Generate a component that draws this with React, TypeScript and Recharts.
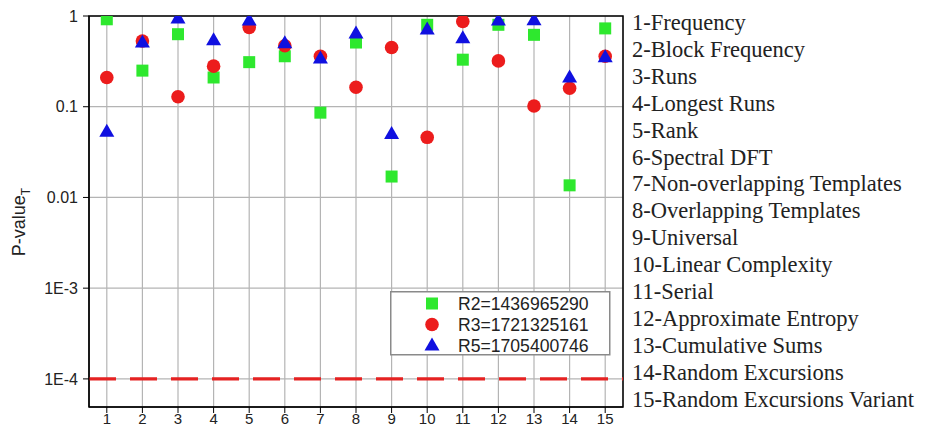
import React from "react";
import { ScatterChart, Scatter, XAxis, YAxis, CartesianGrid, ReferenceLine, ReferenceArea } from "recharts";

// NIST test numbers and names
const testIds = [1, 2, 3, 4, 5, 6, 7, 8, 9, 10, 11, 12, 13, 14, 15];
const testNames = [
  "1-Frequency",
  "2-Block Frequency",
  "3-Runs",
  "4-Longest Runs",
  "5-Rank",
  "6-Spectral DFT",
  "7-Non-overlapping Templates",
  "8-Overlapping Templates",
  "9-Universal",
  "10-Linear Complexity",
  "11-Serial",
  "12-Approximate Entropy",
  "13-Cumulative Sums",
  "14-Random Excursions",
  "15-Random Excursions Variant",
];

// P-value_T per test
const r2Values = [0.92, 0.25, 0.63, 0.21, 0.31, 0.36, 0.086, 0.51, 0.017, 0.8, 0.33, 0.8, 0.62, 0.0136, 0.73];
const r3Values = [0.21, 0.53, 0.129, 0.28, 0.75, 0.47, 0.36, 0.164, 0.45, 0.046, 0.87, 0.32, 0.102, 0.16, 0.36];
const r5Values = [0.053, 0.51, 0.94, 0.54, 0.89, 0.5, 0.34, 0.64, 0.05, 0.71, 0.57, 0.89, 0.9, 0.21, 0.35];

const seriesNames = ["R2=1436965290", "R3=1721325161", "R5=1705400746"];

const yTicks = [1e-4, 1e-3, 0.01, 0.1, 1];
const yTickLabels: Record<number, string> = { 0.0001: "1E-4", 0.001: "1E-3", 0.01: "0.01", 0.1: "0.1", 1: "1" };
const yDomain: [number, number] = [4.9e-5, 1];
const xDomain: [number, number] = [0.5, 15.5];
const threshold = 1e-4;

const r2Data = testIds.map((x, i) => ({ x, y: r2Values[i] }));
const r3Data = testIds.map((x, i) => ({ x, y: r3Values[i] }));
const r5Data = testIds.map((x, i) => ({ x, y: r5Values[i] }));

const GREEN = "#2ee82e";
const RED = "#ec1c1c";
const BLUE = "#1010e0";
const SANS = "Arial, 'Liberation Sans', sans-serif";
const SERIF = "'Times New Roman', 'Liberation Serif', serif";

const Square = ({ cx, cy }: any) => <rect x={cx - 6} y={cy - 6} width={12} height={12} fill={GREEN} />;
const Circle = ({ cx, cy }: any) => <circle cx={cx} cy={cy} r={6.8} fill={RED} />;
const Triangle = ({ cx, cy }: any) => (
  <polygon points={`${cx},${cy - 8} ${cx - 7.5},${cy + 5} ${cx + 7.5},${cy + 5}`} fill={BLUE} />
);
const markers = [Square, Circle, Triangle];

// axis title, legend box and the list of test names, drawn inside the chart svg
const Overlay = () => (
  <g>
    <text transform="translate(25,222) rotate(-90)" textAnchor="middle" fontSize={18} fontFamily={SANS} fill="#222">
      P-value
      <tspan fontSize={12} dy={5}>
        T
      </tspan>
    </text>
    <rect x={390.75} y={291.75} width={219} height={63} fill="#fff" stroke="#8a8a8a" strokeWidth={1.5} />
    {seriesNames.map((name, i) => {
      const M = markers[i];
      const cy = 303.5 + i * 21;
      return (
        <g key={name}>
          <M cx={432} cy={cy} />
          <text x={458} y={cy + 6} fontSize={17.6} fontFamily={SANS} fill="#222">
            {name}
          </text>
        </g>
      );
    })}
    {testNames.map((n, i) => (
      <text key={n} x={632} y={30 + i * 26.9} fontSize={22.5} fontFamily={SERIF} fill="#222">
        {n}
      </text>
    ))}
  </g>
);

export default function App() {
  return (
    <div style={{ position: "absolute", left: 0, top: 0, width: 926, height: 439, background: "#fff" }}>
      <ScatterChart width={926} height={439} margin={{ top: 16, right: 303, bottom: 0, left: 29 }}>
        <CartesianGrid xAxisId="b" yAxisId="l" stroke="#b4b4b4" strokeWidth={1.2} />
        <ReferenceLine xAxisId="b" yAxisId="l" y={threshold} stroke="#e52222" strokeWidth={3.2} strokeDasharray="27 14" />
        <ReferenceArea
          xAxisId="b"
          yAxisId="l"
          x1={xDomain[0]}
          x2={xDomain[1]}
          y1={yDomain[0]}
          y2={yDomain[1]}
          ifOverflow="visible"
          fill="none"
          stroke="#000"
          strokeWidth={1.5}
        />
        <Scatter xAxisId="b" yAxisId="l" name={seriesNames[0]} data={r2Data} shape={Square} isAnimationActive={false} />
        <Scatter xAxisId="b" yAxisId="l" name={seriesNames[1]} data={r3Data} shape={Circle} isAnimationActive={false} />
        <Scatter xAxisId="b" yAxisId="l" name={seriesNames[2]} data={r5Data} shape={Triangle} isAnimationActive={false} />
        <XAxis
          xAxisId="b"
          type="number"
          dataKey="x"
          domain={xDomain}
          allowDataOverflow
          ticks={testIds}
          interval={0}
          height={32}
          tickMargin={0}
          stroke="#000"
          tick={{ fontSize: 15, fill: "#222", fontFamily: SANS }}
        />
        <YAxis
          yAxisId="l"
          type="number"
          dataKey="y"
          scale="log"
          domain={yDomain}
          allowDataOverflow
          ticks={yTicks}
          interval={0}
          width={60}
          tickMargin={5}
          stroke="#000"
          tick={{ fontSize: 16, fill: "#222", fontFamily: SANS }}
          tickFormatter={(v: number) => yTickLabels[v] ?? String(v)}
          label={{ content: Overlay }}
        />
      </ScatterChart>
    </div>
  );
}
